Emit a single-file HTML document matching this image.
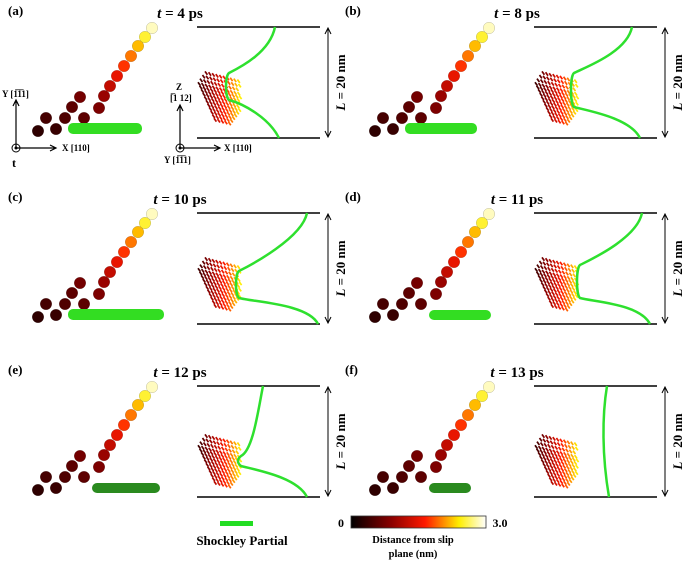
<!DOCTYPE html>
<html><head><meta charset="utf-8"><style>
html,body{margin:0;padding:0;background:#fff}
svg{display:block;font-family:"Liberation Serif",serif;font-weight:bold}
</style></head><body>
<svg id="fig" width="685" height="563" viewBox="0 0 685 563">
<defs>
<linearGradient id="cmap" x1="0" x2="1" y1="0" y2="0">
<stop offset="0" stop-color="#000"/><stop offset="0.3" stop-color="#8b0000"/><stop offset="0.55" stop-color="#ff1a00"/><stop offset="0.8" stop-color="#ffee00"/><stop offset="1" stop-color="#fff"/>
</linearGradient>
</defs>
<g id="panels"></g>
<g>
<rect x="220" y="521" width="33" height="5" fill="#22dd22"/>
<text x="242" y="545" font-size="13" text-anchor="middle">Shockley Partial</text>
<text x="341" y="527" font-size="12" text-anchor="middle">0</text>
<rect x="351" y="516" width="135" height="12" fill="url(#cmap)" stroke="#333" stroke-width="0.8"/>
<text x="500" y="527" font-size="12" text-anchor="middle">3.0</text>
<text x="413" y="543" font-size="10.5" text-anchor="middle">Distance from slip</text>
<text x="413" y="557" font-size="10.5" text-anchor="middle">plane (nm)</text>
</g>
</svg>
<script>
const labels=['(a)','(b)','(c)','(d)','(e)','(f)'];
const times=[4,8,10,11,12,13];
const colOffsets=[0,337];
const rowOffsets=[0,186,359];
// dislocation line shape per panel: [topX, bendX, bendTopY, bendBotY, botX] in box-local coords
const lineShapes=[[78,32,46,73,82],[98,40,46,80,106],[110,42,58,85,121],[108,46,52,85,116],[66,44,70,80,110],[73,68,55,57,75]];
// tube visible length per panel
const tubeLen=[74,72,96,62,68,42];

const NS='http://www.w3.org/2000/svg';
const root=document.getElementById('panels');
function mk(tag,attrs,parent){const e=document.createElementNS(NS,tag);for(const k in attrs)e.setAttribute(k,attrs[k]);parent.appendChild(e);return e;}
function cm(t){const s=[[0,0,0,0],[0.3,139,0,0],[0.55,255,26,0],[0.8,255,238,0],[1,255,255,255]];
 for(let i=1;i<s.length;i++){if(t<=s[i][0]){const a=s[i-1],b=s[i],f=(t-a[0])/(b[0]-a[0]);return `rgb(${Math.round(a[1]+(b[1]-a[1])*f)},${Math.round(a[2]+(b[2]-a[2])*f)},${Math.round(a[3]+(b[3]-a[3])*f)})`;}}return '#fff';}
const spheres=[[38,131,0.1],[56,129,0.12],[46,118,0.15],[65,118,0.17],[84,118,0.2],[72,107,0.2],[80,97,0.25],[99,108,0.27],[104,96,0.33],[110,86,0.42],[117,76,0.5],[124,66,0.58],[131,56,0.66],[138,46,0.74],[145,37,0.84],[152,28,0.95]];
for(let p=0;p<6;p++){
 const ox=colOffsets[p%2],oy=rowOffsets[Math.floor(p/2)];
 const g=mk('g',{transform:`translate(${ox},${oy})`},root);
 
 
 const lb=mk('text',{x:8,y:15,'font-size':13},g);lb.textContent=labels[p];
 
 const tt=mk('text',{x:180,y:18,'font-size':15,'text-anchor':'middle'},g);
 tt.innerHTML='<tspan font-style="italic">t</tspan> = '+times[p]+' ps';
 
 spheres.forEach(s=>{const c=mk('circle',{cx:s[0],cy:s[1],r:5.8,fill:cm(s[2]),stroke:'rgba(0,0,0,0.25)','stroke-width':0.5},g);
  });
 const tx=(p<3?68:92),L=tubeLen[p];
 const tb=mk('rect',{x:tx,y:p<3?123:124,width:L,height:p<3?11:10,rx:5,fill:p>=4?'#2a8a1f':'#33dd22'},g);
 
 const bx=197,by=27,bw=123,bh=111;
 [by,by+bh].forEach(y=>{const l=mk('line',{x1:bx,x2:bx+bw,y1:y,y2:y,stroke:'#000','stroke-width':1.5},g);
  });
 const ar=mk('path',{d:`M328 ${by+2} L328 ${by+bh-2} M325 ${by+7} L328 ${by+1} L331 ${by+7} M325 ${by+bh-7} L328 ${by+bh-1} L331 ${by+bh-7}`,stroke:'#000','stroke-width':1,fill:'none'},g);
 
 const lt=mk('text',{x:0,y:0,'font-size':13,'text-anchor':'middle',transform:`translate(345 ${by+bh/2}) rotate(-90)`},g);
 lt.innerHTML='<tspan font-style="italic">L</tspan> = 20 nm';
 
 // atom cluster
 const cy0=by+(p>=4?50:46);
 for(let i=0;i<14;i++){
  const sxl=(i<3?8-i*2.5:1+(i-3)*1.6), syl=i*3.6;
  const right=44-(i>9?(i-9)*2:0);
  const n=Math.max(2,Math.round((right-sxl)/3.6));
  for(let j=0;j<n;j++){
   const x=bx+sxl+j*3.6,y=cy0+syl+j*0.9;
   const d=mk('line',{x1:x,y1:y-1.6,x2:x+2.4,y2:y+1.8,stroke:cm(0.12+0.75*(x-bx)/46),'stroke-width':1.7},g);
   }}
 const s=lineShapes[p];
 let dpath;
 if(s[3]-s[2]<5){
  dpath=`M${bx+s[0]} ${by} C${bx+s[1]} ${by+30} ${bx+s[1]} ${by+70} ${bx+s[4]} ${by+bh}`;
 } else {
  dpath=`M${bx+s[0]} ${by} C${bx+s[0]-5} ${by+25} ${bx+s[1]+12} ${by+s[2]-6} ${bx+s[1]} ${by+s[2]} C${bx+s[1]-4} ${by+s[2]+3} ${bx+s[1]-4} ${by+s[3]-3} ${bx+s[1]} ${by+s[3]} C${bx+s[1]+15} ${by+s[3]+4} ${bx+s[4]-10} ${by+bh-20} ${bx+s[4]} ${by+bh}`;
 }
 const dl=mk('path',{d:dpath,stroke:'#2ee02e','stroke-width':2.5,fill:'none'},g);
 
 if(p===0){
  const ax=mk('g',{},g);
  mk('path',{d:'M16 148 L16 100 M13 106 L16 100 L19 106 M16 148 L56 148 M50 145 L56 148 L50 151 M180 148 L180 105 M177 111 L180 105 L183 111 M180 148 L220 148 M214 145 L220 148 L214 151',stroke:'#000','stroke-width':1.2,fill:'none'},ax);
  mk('circle',{cx:16,cy:148,r:4,fill:'none',stroke:'#000'},ax);mk('circle',{cx:16,cy:148,r:1.5},ax);
  mk('circle',{cx:180,cy:148,r:4,fill:'none',stroke:'#000'},ax);mk('circle',{cx:180,cy:148,r:1.5},ax);
  [['Y [1\u03051\u03051]',2,97,9],['X [110]',62,151,9],['Z',176,90,9],['[\u03051 12]',170,101,9],['X [110]',224,151,9],['Y [1\u03051\u03051]',164,163,9],['t\u20d7',12,167,12]].forEach(t=>{
   const e=mk('text',{x:t[1],y:t[2],'font-size':t[3]},ax);e.textContent=t[0];});
 }
}
</script>
</body></html>
